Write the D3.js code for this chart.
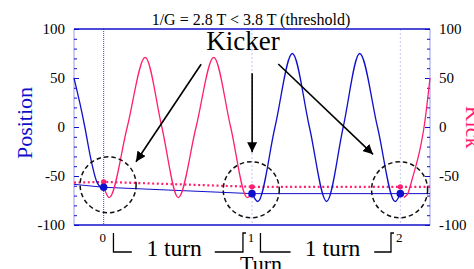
<!DOCTYPE html>
<html lang="en">
<head>
<meta charset="UTF-8">
<title>Kicker turn-by-turn</title>
<script src="https://d3js.org/d3.v7.min.js"></script>
<style>
  body { margin: 0; background: #fff; }
</style>
</head>
<body>
<div id="chart"></div>
<script>
// values (x in turns, y in chart units)
const turnTicks = [0, 1, 2];
const yTicks = [-100, -50, 0, 50, 100];

const positionLead = [[-0.2, 50], [-0.16, 24], [-0.127, 0], [-0.09, -30], [-0.046, -56], [-0.02, -61], [0, -61.5]];
const positionTurn2 = [[1.001, -68], [1.039, -76], [1.155, 0], [1.272, 75], [1.387, 0], [1.503, -76],
                       [1.615, 0], [1.726, 75], [1.846, 0], [1.965, -76], [1.999, -68]];
const kickTurn1 = [[0.005, -63], [0.037, -72], [0.159, 0], [0.280, 71], [0.392, 0], [0.503, -72],
                   [0.623, 0], [0.742, 71], [0.856, 0], [0.968, -72], [0.998, -68]];
const kickTail = [[2.024, -72], [2.05, -68], [2.082, -52], [2.139, -18], [2.16, 0], [2.2, 50]];

const positionDots = [[0, -61.5], [1, -68], [2, -68]];
const kickDots = [[0, -56], [1, -61], [2, -61]];
const positionTrend = [[-0.2, -58.5], [0, -61.5], [1, -68], [2, -68], [2.2, -68]];
const kickTrend = [[-0.2, -56.8], [0, -56], [1, -61], [2, -61], [2.2, -61]];

// annotations
const circles = [[0.03, -59], [0.995, -64], [1.995, -64]];
const arrows = [
  [[0.657, 64], [0.218, -35.4]],
  [[1.001, 54.8], [1.001, -25.8]],
  [[1.177, 64.3], [1.816, -27.9]]
];
const brackets = [
  { left: [0.066, 0.19], right: [0.749, 0.939], label: "1 turn", at: 0.475 },
  { left: [1.057, 1.26], right: [1.824, 1.937], label: "1 turn", at: 1.543 }
];

const width = 474, height = 269;
const margin = { top: 29, right: 44, bottom: 44, left: 74 };
const blue = "#1010cc", pink = "#ff1f6f";

const svg = d3.select("#chart").append("svg")
  .attr("width", width).attr("height", height)
  .attr("font-family", "'Liberation Serif', 'Times New Roman', serif");

const x = d3.scaleLinear().domain([-0.2, 2.2]).range([margin.left, width - margin.right]);
const y = d3.scaleLinear().domain([-100, 100]).range([height - margin.bottom, margin.top]);

const x0 = margin.left, x1 = width - margin.right;
const yTop = margin.top, yBot = height - margin.bottom;

// vertical grid at each turn
svg.selectAll(".grid").data(turnTicks).enter().append("line")
  .attr("x1", d => x(d)).attr("x2", d => x(d))
  .attr("y1", yTop).attr("y2", yBot)
  .attr("stroke", d => d === 0 ? "#3c3ce0" : "#c4c4ee")
  .attr("stroke-width", 1)
  .attr("stroke-dasharray", d => d === 0 ? "1,1" : "2,2");

// frame
svg.append("line").attr("x1", x0).attr("x2", x0).attr("y1", yTop).attr("y2", yBot)
  .attr("stroke", "#9a9aee").attr("stroke-width", 1);
svg.append("line").attr("x1", x1).attr("x2", x1).attr("y1", yTop).attr("y2", yBot)
  .attr("stroke", "#9a9aee").attr("stroke-width", 1);
[yTop, yBot].forEach(v => {
  svg.append("line").attr("x1", x0).attr("x2", x1).attr("y1", v).attr("y2", v)
    .attr("stroke", blue).attr("stroke-width", 1.5);
});

// y axes, ticks inside
const minor = d3.range(-100, 101, 10);
function drawY(gx, dir) {
  const ax = (dir < 0 ? d3.axisRight(y) : d3.axisLeft(y));
  const g = svg.append("g").attr("transform", `translate(${gx},0)`)
    .call(ax.tickValues(minor).tickSize(3).tickFormat(""));
  g.select(".domain").remove();
  g.selectAll(".tick line").attr("stroke", blue)
    .attr("x2", d => (d % 50 === 0 ? 5 : 3) * (dir < 0 ? 1 : -1));
}
drawY(x0, -1);
drawY(x1, 1);

svg.append("g").selectAll("text").data(yTicks).enter().append("text")
  .attr("x", x0 - 9).attr("y", d => y(d) + 5)
  .attr("text-anchor", "end").attr("font-size", 15).text(d => d);
svg.append("g").selectAll("text").data(yTicks).enter().append("text")
  .attr("x", x1 + 9).attr("y", d => y(d) + 5)
  .attr("text-anchor", "start").attr("font-size", 15).text(d => d);

// axis titles
svg.append("text")
  .attr("transform", `translate(32,${(yTop + yBot) / 2 - 4}) rotate(-90)`)
  .attr("text-anchor", "middle").attr("font-size", 22).attr("fill", blue)
  .text("Position");
svg.append("text")
  .attr("transform", `translate(466,${(yTop + yBot) / 2}) rotate(90)`)
  .attr("text-anchor", "middle").attr("font-size", 22).attr("fill", pink)
  .text("Kick");

svg.append("text")
  .attr("x", 251).attr("y", 25).attr("text-anchor", "middle")
  .attr("font-size", 16).text("1/G = 2.8 T < 3.8 T (threshold)");

// trend lines through the kicker points
const line = d3.line().x(d => x(d[0])).y(d => y(d[1]));
svg.append("path").attr("d", line(positionTrend))
  .attr("fill", "none").attr("stroke", blue).attr("stroke-width", 1);
svg.append("path").attr("d", line(kickTrend))
  .attr("fill", "none").attr("stroke", pink).attr("stroke-width", 2.2)
  .attr("stroke-dasharray", "2,2.6");

// oscillations
const smooth = d3.line().x(d => x(d[0])).y(d => y(d[1])).curve(d3.curveMonotoneX);
[positionLead, positionTurn2].forEach(s => {
  svg.append("path").attr("d", smooth(s))
    .attr("fill", "none").attr("stroke", blue).attr("stroke-width", 1.3);
});
[kickTurn1, kickTail].forEach(s => {
  svg.append("path").attr("d", smooth(s))
    .attr("fill", "none").attr("stroke", pink).attr("stroke-width", 1.3);
});

// dots
svg.selectAll(".kdot").data(kickDots).enter().append("circle")
  .attr("cx", d => x(d[0])).attr("cy", d => y(d[1])).attr("r", 2.6).attr("fill", pink);
svg.selectAll(".pdot").data(positionDots).enter().append("circle")
  .attr("cx", d => x(d[0])).attr("cy", d => y(d[1])).attr("r", 3.8).attr("fill", blue);

// dashed circles
svg.selectAll(".ring").data(circles).enter().append("circle")
  .attr("cx", d => x(d[0])).attr("cy", d => y(d[1])).attr("r", 28)
  .attr("fill", "none").attr("stroke", "#111").attr("stroke-width", 1.5)
  .attr("stroke-dasharray", "4.5,3");

// arrows
svg.append("defs").append("marker")
  .attr("id", "head").attr("markerUnits", "userSpaceOnUse")
  .attr("viewBox", "0 -5 10 10").attr("refX", 10).attr("refY", 0)
  .attr("markerWidth", 10).attr("markerHeight", 10).attr("orient", "auto")
  .append("path").attr("d", "M0,-5L10,0L0,5Z").attr("fill", "#000");
svg.selectAll(".arrow").data(arrows).enter().append("line")
  .attr("x1", d => x(d[0][0])).attr("y1", d => y(d[0][1]))
  .attr("x2", d => x(d[1][0])).attr("y2", d => y(d[1][1]))
  .attr("stroke", "#000").attr("stroke-width", 1.6)
  .attr("marker-end", "url(#head)");

svg.append("text").attr("x", x(0.939)).attr("y", 50)
  .attr("text-anchor", "middle").attr("font-size", 27).text("Kicker");

// turn labels and brackets below the axis
svg.selectAll(".tl").data(turnTicks).enter().append("text")
  .attr("x", d => x(d) - 1).attr("y", 242)
  .attr("text-anchor", "middle").attr("font-size", 13).text(d => d);

const bTop = 233, bBot = 252;
brackets.forEach(b => {
  svg.append("path")
    .attr("d", `M${x(b.left[0])},${bTop}V${bBot}H${x(b.left[1])}`)
    .attr("fill", "none").attr("stroke", "#000").attr("stroke-width", 1.3);
  svg.append("path")
    .attr("d", `M${x(b.right[0])},${bBot}H${x(b.right[1])}V${bTop}h3`)
    .attr("fill", "none").attr("stroke", "#000").attr("stroke-width", 1.3);
  svg.append("text").attr("x", x(b.at)).attr("y", 256)
    .attr("text-anchor", "middle").attr("font-size", 23.5).text(b.label);
});

svg.append("text").attr("x", 261).attr("y", 271)
  .attr("text-anchor", "middle").attr("font-size", 22).text("Turn");
</script>
</body>
</html>
